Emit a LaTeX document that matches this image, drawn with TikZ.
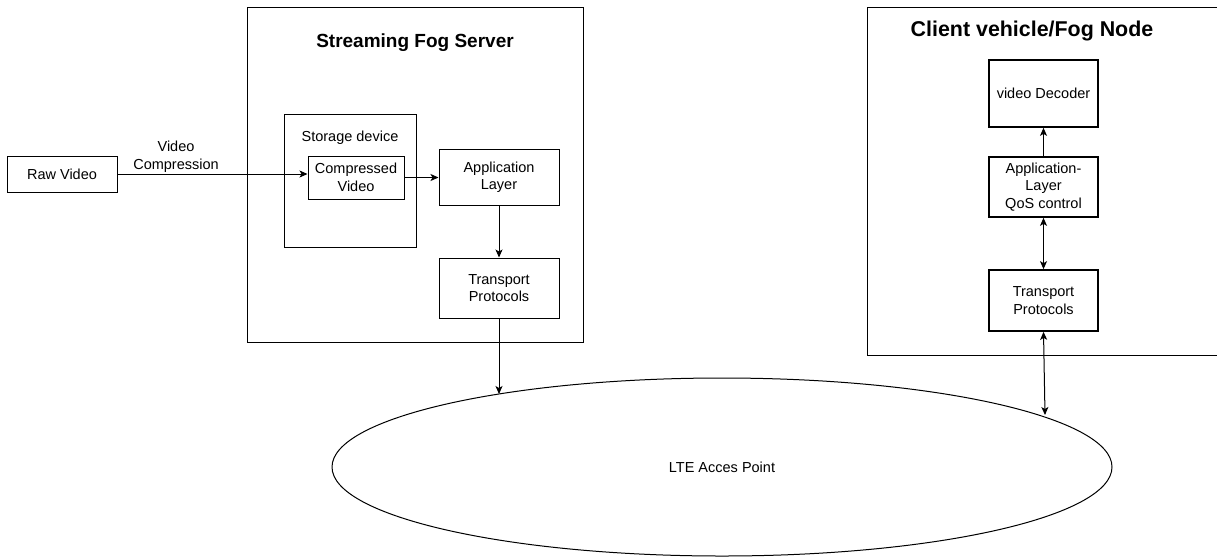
\documentclass[tikz,border=0pt]{standalone}
\usepackage{fontspec}
\setmainfont{Liberation Sans}
\usetikzlibrary{arrows.meta,shapes.geometric}
\tikzset{
  box/.style={draw, line width=1pt, inner sep=0pt, align=center, font=\fontsize{14.5}{17.5}\selectfont},
  thickbox/.style={box, line width=1.7pt},
  lbl/.style={inner sep=0pt, align=center, font=\fontsize{14.5}{17.5}\selectfont},
  conn/.style={line width=1pt, -{Stealth[length=8pt,width=7pt,inset=2pt]}},
  biconn/.style={line width=1pt, {Stealth[length=8pt,width=7pt,inset=2pt]}-{Stealth[length=8pt,width=7pt,inset=2pt]}}
}
\begin{document}
\begin{tikzpicture}[x=1pt,y=-1pt]
\useasboundingbox (0,0) rectangle (1217,558);
\fill[white] (0,0) rectangle (1217,558);
% Streaming Fog Server
\node[box, minimum width=336, minimum height=335] (server) at (415,174.5) {};
\node[lbl, font=\fontsize{19}{22}\selectfont\bfseries] (stitle) at (415,43) {Streaming Fog Server};
\node[box, minimum width=132, minimum height=133] (storage) at (350,180.5) {};
\node[lbl] (stlabel) at (350,138) {Storage device};
\node[box, minimum width=96, minimum height=43] (comp) at (356,177.5) {Compressed\\Video};
\node[box, minimum width=120, minimum height=56] (app) at (499,177) {Application\\Layer};
\node[box, minimum width=120, minimum height=60] (tp) at (499,288) {Transport\\Protocols};
% Raw video
\node[box, minimum width=110, minimum height=36] (raw) at (62,174) {Raw Video};
\node[lbl] (vc) at (176,156.5) {Video\\Compression};
% Client
\node[box, minimum width=352, minimum height=348] (client) at (1043,181) {};
\node[lbl, font=\fontsize{21.4}{24}\selectfont\bfseries] (ctitle) at (1032,31) {Client vehicle/Fog Node};
\node[thickbox, minimum width=109, minimum height=67] (dec) at (1043.5,93.5) {video Decoder};
\node[thickbox, minimum width=109, minimum height=60] (qos) at (1043.5,187) {Application-\\Layer\\QoS control};
\node[thickbox, minimum width=109, minimum height=61] (ctp) at (1043.5,300.5) {Transport\\Protocols};
% LTE
\node[draw, ellipse, line width=1pt, minimum width=780, minimum height=178, inner sep=0pt, font=\fontsize{14.5}{17.5}\selectfont] (lte) at (722,467) {LTE Acces Point};
\coordinate (e1) at (499,394);
\coordinate (e2) at (1045,415);
% connectors
\draw[conn] (raw.east) -- (raw.east -| comp.west);
\draw[conn] (comp.east) -- (comp.east -| app.west);
\draw[conn] (app.south) -- (tp.north);
\draw[conn] (tp.south) -- (e1);
\draw[conn] (qos.north) -- (dec.south);
\draw[biconn] (qos.south) -- (ctp.north);
\draw[biconn] (ctp.south) -- (e2);
\end{tikzpicture}
\end{document}
